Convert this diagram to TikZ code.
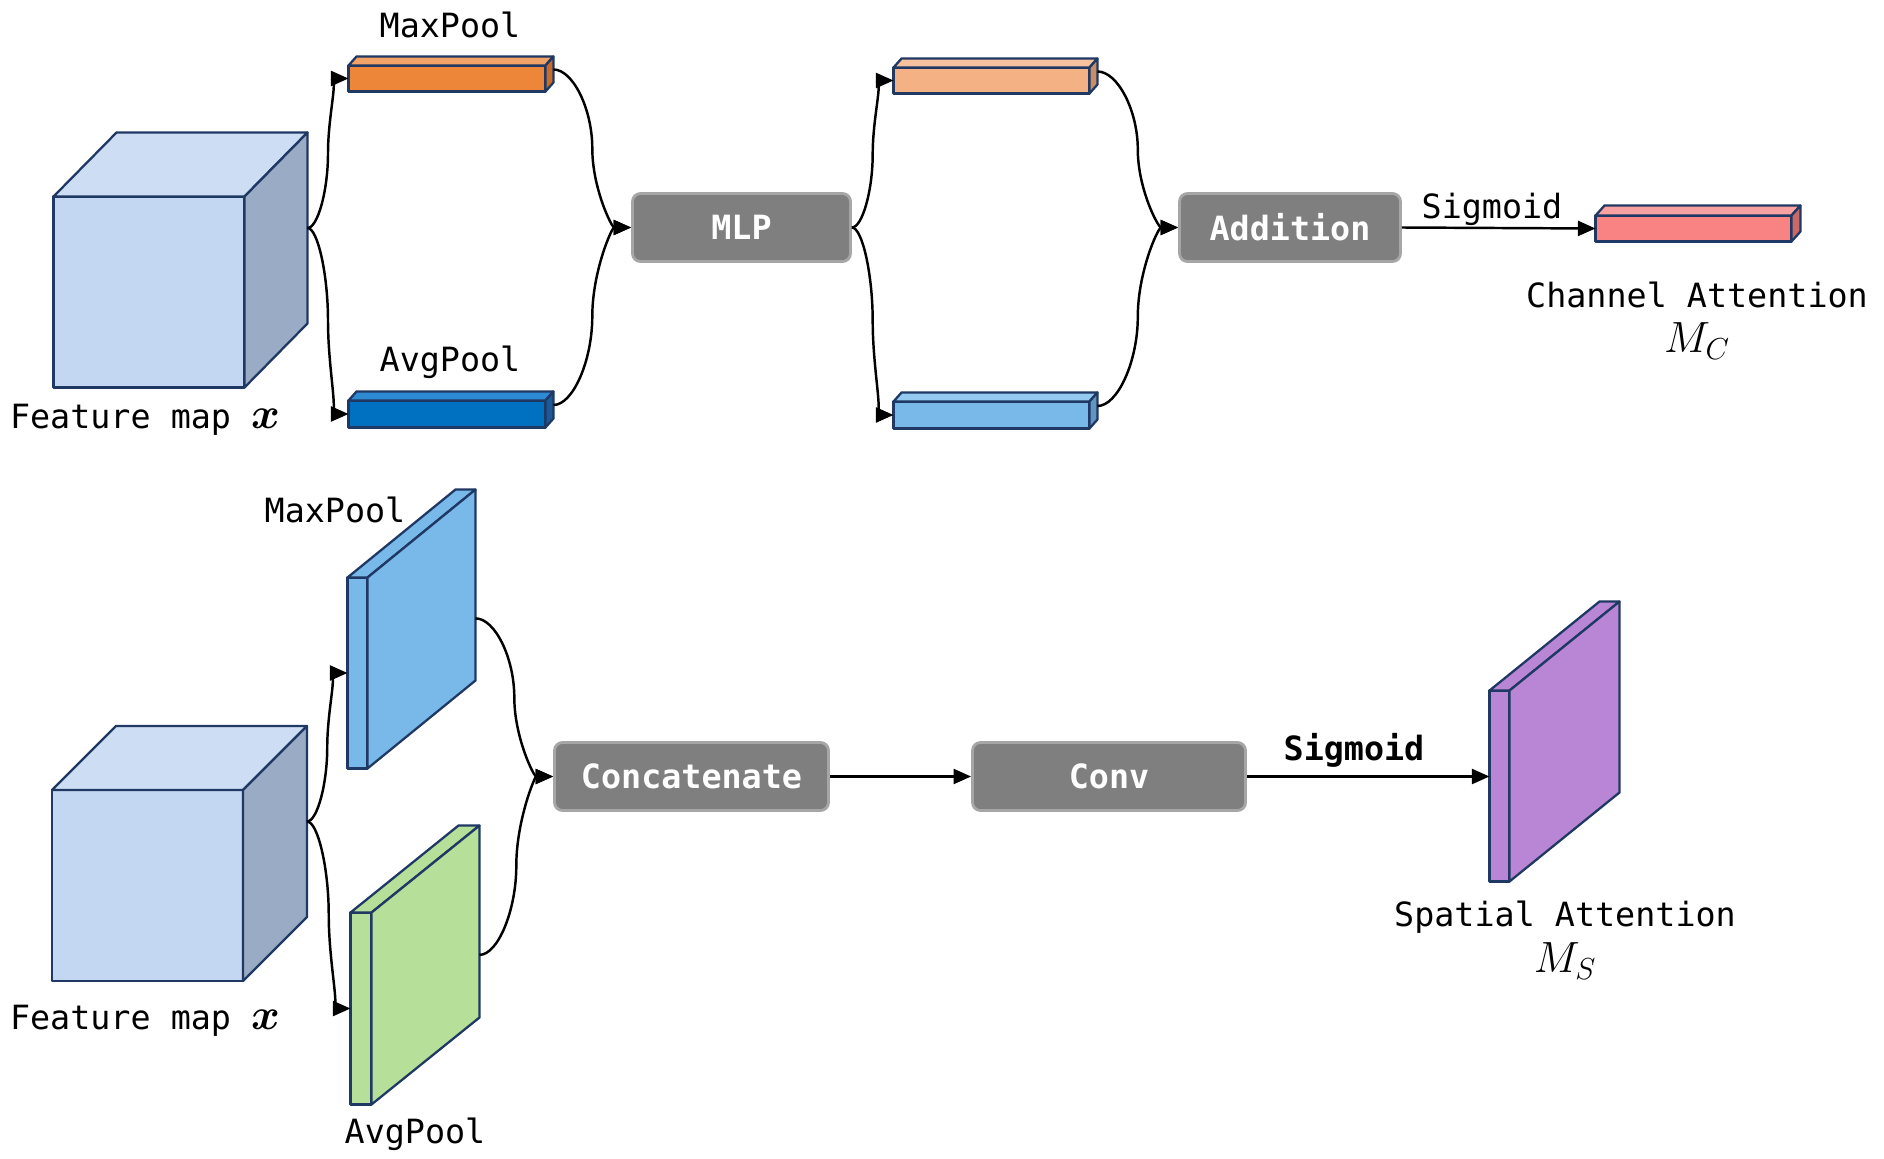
\documentclass[tikz,border=0pt]{standalone}
\usepackage{amsmath}
\usepackage{fontspec}
\setmonofont{DejaVu Sans Mono}
\usetikzlibrary{arrows.meta}
\usetikzlibrary{calc}
\definecolor{navy}{HTML}{1F3864}
\definecolor{cubeF}{HTML}{C3D6F2}
\definecolor{cubeT}{HTML}{CCDDF4}
\definecolor{cubeS}{HTML}{9AABC5}
\definecolor{orF}{HTML}{EE8639}
\definecolor{orT}{HTML}{F1A266}
\definecolor{orS}{HTML}{C76C2C}
\definecolor{dbF}{HTML}{0070C0}
\definecolor{dbT}{HTML}{2E8BD3}
\definecolor{dbS}{HTML}{1A5A96}
\definecolor{loF}{HTML}{F4B183}
\definecolor{loT}{HTML}{F6C29E}
\definecolor{loS}{HTML}{C98E66}
\definecolor{lbF}{HTML}{78B9EA}
\definecolor{lbT}{HTML}{94C9F0}
\definecolor{lbS}{HTML}{6296C0}
\definecolor{rdF}{HTML}{F88382}
\definecolor{rdT}{HTML}{F9A2A1}
\definecolor{rdS}{HTML}{C86A69}
\definecolor{gnC}{HTML}{B6DF9A}
\definecolor{puC}{HTML}{B986D6}
\definecolor{boxgray}{HTML}{7F7F7F}
\definecolor{boxline}{HTML}{A6A6A6}
\newcommand{\lbl}{\fontsize{19}{23}\selectfont}
\newcommand{\mth}{\fontsize{23}{27}\selectfont}
\tikzset{
  face/.style={draw=navy, line width=1.3pt, line join=round},
  blk/.style={rectangle, rounded corners=0.16cm, fill=boxgray, draw=boxline, line width=1.6pt,
    text=white, font=\ttfamily\bfseries\lbl, minimum height=1.36cm, inner sep=0pt},
  txt/.style={font=\ttfamily\lbl, inner sep=0pt},
  conn/.style={line width=1.4pt, -{Triangle[length=10pt,width=8.5pt]}},
  curv/.style={to path={let \p1=(\tikztostart), \p2=(\tikztotarget) in
    .. controls ({0.75*\x1+0.25*\x2},\y1) and ({0.5*\x1+0.5*\x2},{0.75*\y1+0.25*\y2})
    .. ({0.5*\x1+0.5*\x2},{0.5*\y1+0.5*\y2})
    .. controls ({0.5*\x1+0.5*\x2},{0.25*\y1+0.75*\y2}) and ({0.25*\x1+0.75*\x2},\y2)
    .. (\tikztotarget) \tikztonodes}}
}
% #1 name, #2 centre, #3 width, #4 height, #5/#6 depth, #7 front, #8 top, #9 side
\newcommand{\slab}[9]{%
  \node[face, fill=#7, minimum width=#3, minimum height=#4, inner sep=0pt, outer sep=0pt] (#1) at #2 {};
  \draw[face, fill=#8] (#1.north west) -- ++(#5,#6) -- ($(#1.north east)+(#5,#6)$) -- (#1.north east) -- cycle;
  \draw[face, fill=#9] (#1.north east) -- ++(#5,#6) -- ($(#1.south east)+(#5,#6)$) -- (#1.south east) -- cycle;
  \coordinate (#1-o) at ($(#1.east)+(#5,#6)$);
}

\begin{document}
\begin{tikzpicture}[x=0.02cm, y=-0.02cm]
  \useasboundingbox (0,0) rectangle (1884,1159);
  %Channel attention
  \slab{fmA}{(149,292)}{3.82cm}{3.82cm}{63}{-64}{cubeF}{cubeT}{cubeS}
  \slab{mpA}{(447,78.5)}{3.94cm}{0.52cm}{8}{-9}{orF}{orT}{orS}
  \slab{apA}{(447,414)}{3.94cm}{0.54cm}{8}{-9}{dbF}{dbT}{dbS}
  \slab{mxA}{(991.5,80.5)}{3.92cm}{0.52cm}{8}{-9}{loF}{loT}{loS}
  \slab{avA}{(991.5,415)}{3.92cm}{0.54cm}{8}{-9}{lbF}{lbT}{lbS}
  \slab{ca}{(1693.5,228.5)}{3.92cm}{0.52cm}{9}{-10}{rdF}{rdT}{rdS}
  \node[blk, minimum width=4.36cm] (mlp) at (741.5,227.5) {MLP};
  \node[blk, minimum width=4.42cm] (add) at (1290,227.5) {Addition};
  \node[txt] (fmAl) at (145,420) {Feature map {\mth$\boldsymbol{x}$}};
  \node[txt] (mpAl) at (450,25) {MaxPool};
  \node[txt] (apAl) at (450,362) {AvgPool};
  \node[txt] (sgA) at (1492,209) {Sigmoid};
  \node[txt] (caA) at (1697,295) {Channel Attention};
  \node[txt, font=\mth] (caM) at (1697,341) {$M_C$};
  \draw[conn] (fmA-o) to[curv] (mpA.west);
  \draw[conn] (fmA-o) to[curv] (apA.west);
  \draw[conn] (mpA-o) to[curv] (mlp.west);
  \draw[conn] (apA-o) to[curv] (mlp.west);
  \draw[conn] (mlp.east) to[curv] (mxA.west);
  \draw[conn] (mlp.east) to[curv] (avA.west);
  \draw[conn] (mxA-o) to[curv] (add.west);
  \draw[conn] (avA-o) to[curv] (add.west);
  \draw[conn] (add.east) -- (ca.west);
  %Spatial attention
  \slab{fmB}{(147.5,885.5)}{3.82cm}{3.82cm}{64}{-64}{cubeF}{cubeT}{cubeS}
  \slab{mpB}{(357.5,673)}{0.40cm}{3.82cm}{108}{-88}{lbF}{lbF}{lbF}
  \slab{apB}{(361,1008.5)}{0.42cm}{3.84cm}{108}{-87}{gnC}{gnC}{gnC}
  \slab{sa}{(1499.5,786)}{0.40cm}{3.82cm}{110}{-89}{puC}{puC}{puC}
  \node[blk, minimum width=5.48cm] (cat) at (691.5,776.5) {Concatenate};
  \node[blk, minimum width=5.46cm] (conv) at (1109,776.5) {Conv};
  \node[txt] (fmBl) at (145,1021) {Feature map {\mth$\boldsymbol{x}$}};
  \node[txt] (mpBl) at (335,510) {MaxPool};
  \node[txt] (apBl) at (415,1134) {AvgPool};
  \node[txt, font=\ttfamily\bfseries\lbl] (sgB) at (1354,750) {Sigmoid};
  \node[txt] (saA) at (1565,917) {Spatial Attention};
  \node[txt, font=\mth] (saM) at (1565,961) {$M_S$};
  \draw[conn] (fmB-o) to[curv] (mpB.west);
  \draw[conn] (fmB-o) to[curv] (apB.west);
  \draw[conn] ([yshift=-19pt]mpB-o) to[curv] (cat.west);
  \draw[conn] ([yshift=-19pt]apB-o) to[curv] (cat.west);
  \draw[conn] (cat.east) -- (conv.west);
  \draw[conn] (conv.east) -- (sa.west |- conv.east);
\end{tikzpicture}
\end{document}
